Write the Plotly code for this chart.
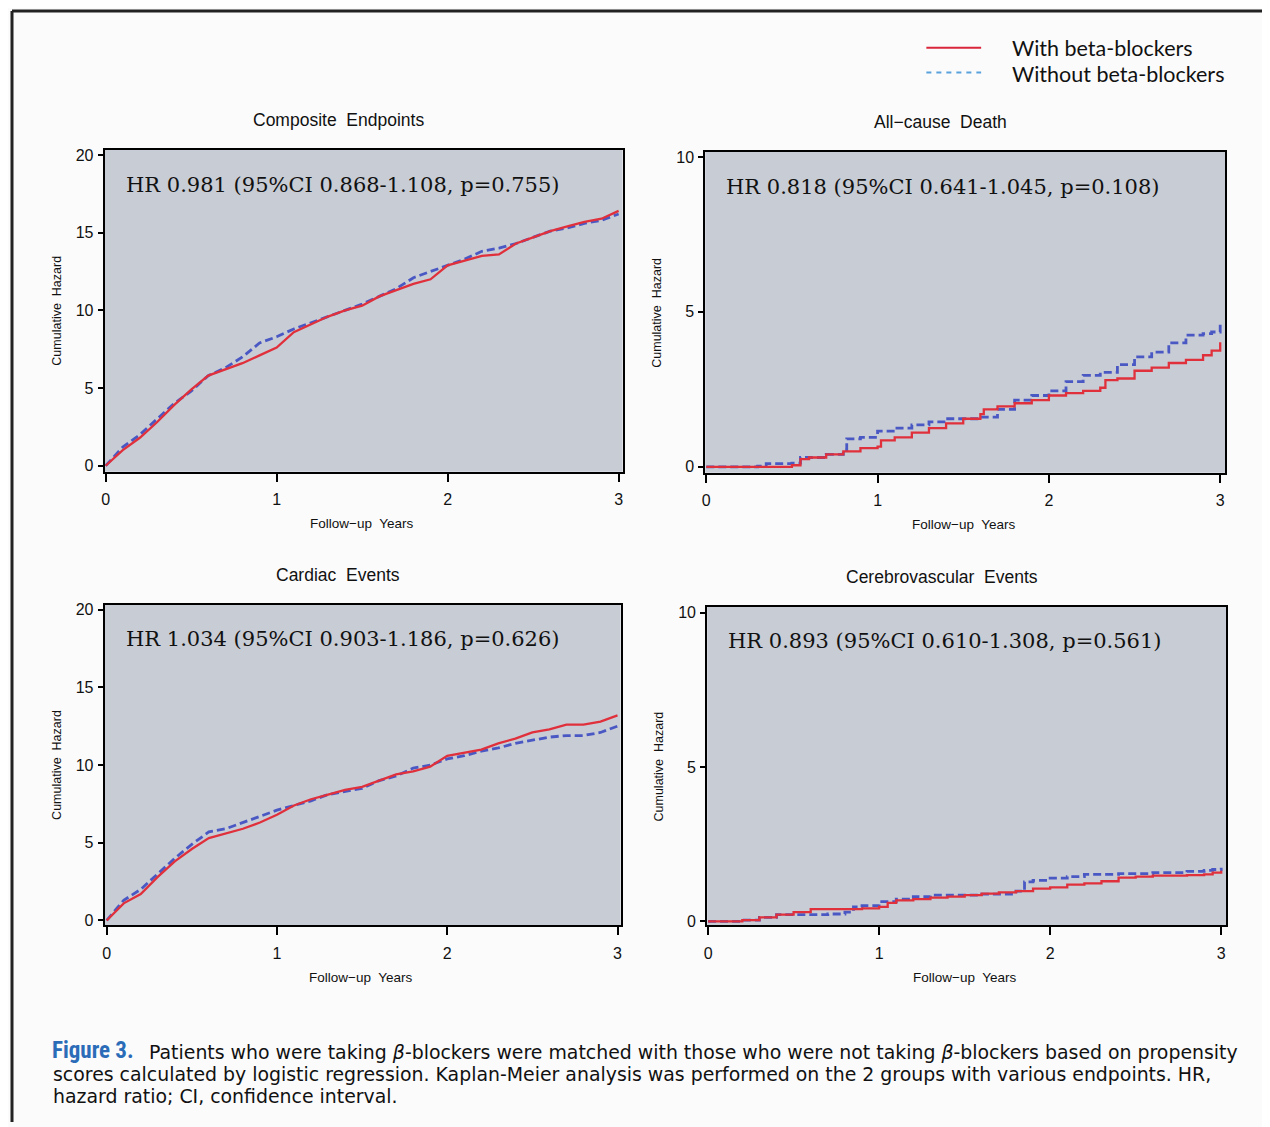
import plotly.graph_objects as go

# page body margin in the browser (the figure is drawn a few px in from the corner)
OFFX, OFFY = 10, 8
FW, FH = 1270 - OFFX, 1127 - OFFY

# ---------------- data ----------------
years = [0.0, 0.1, 0.2, 0.3, 0.4, 0.5, 0.6, 0.7, 0.8, 0.9, 1.0,
         1.1, 1.2, 1.3, 1.4, 1.5, 1.6, 1.7, 1.8, 1.9, 2.0,
         2.1, 2.2, 2.3, 2.4, 2.5, 2.6, 2.7, 2.8, 2.9, 3.0]

composite_with = [0, 1.0, 1.8, 2.8, 3.9, 4.9, 5.8, 6.2, 6.6, 7.1, 7.6,
                  8.6, 9.1, 9.6, 10.0, 10.3, 10.9, 11.3, 11.7, 12.0, 12.9,
                  13.2, 13.5, 13.6, 14.3, 14.7, 15.1, 15.4, 15.7, 15.9, 16.4]
composite_without = [0, 1.2, 2.0, 3.0, 4.0, 4.8, 5.8, 6.3, 7.0, 7.9, 8.3,
                     8.8, 9.2, 9.6, 10.0, 10.4, 10.9, 11.4, 12.1, 12.5, 12.9,
                     13.3, 13.8, 14.0, 14.3, 14.7, 15.1, 15.3, 15.6, 15.8, 16.2]

cardiac_with = [0, 1.1, 1.7, 2.8, 3.8, 4.6, 5.3, 5.6, 5.9, 6.3, 6.8,
                7.4, 7.8, 8.1, 8.4, 8.6, 9.0, 9.4, 9.6, 9.9, 10.6,
                10.8, 11.0, 11.4, 11.7, 12.1, 12.3, 12.6, 12.6, 12.8, 13.2]
cardiac_without = [0, 1.3, 2.0, 3.0, 4.0, 4.9, 5.7, 5.9, 6.3, 6.7, 7.1,
                   7.4, 7.7, 8.1, 8.3, 8.5, 9.0, 9.3, 9.8, 10.0, 10.4,
                   10.6, 10.9, 11.1, 11.4, 11.6, 11.8, 11.9, 11.9, 12.1, 12.5]

death_years_with = [0, 0.5, 0.55, 0.6, 0.7, 0.8, 0.9, 1.0, 1.02, 1.1, 1.2, 1.3, 1.4,
                    1.5, 1.6, 1.62, 1.7, 1.8, 1.9, 2.0, 2.1, 2.2, 2.3, 2.33, 2.4,
                    2.5, 2.6, 2.7, 2.8, 2.9, 2.95, 3.0]
death_with = [0, 0.05, 0.25, 0.3, 0.4, 0.5, 0.6, 0.65, 0.85, 0.95, 1.1, 1.25, 1.4,
              1.55, 1.7, 1.85, 1.95, 2.05, 2.15, 2.3, 2.38, 2.45, 2.55, 2.8, 2.85,
              3.1, 3.2, 3.35, 3.45, 3.6, 3.75, 4.02]
death_years_without = [0, 0.3, 0.35, 0.5, 0.55, 0.7, 0.8, 0.82, 0.9, 1.0, 1.1, 1.2,
                       1.3, 1.4, 1.6, 1.7, 1.8, 1.9, 2.0, 2.1, 2.2, 2.3, 2.4, 2.5,
                       2.6, 2.7, 2.8, 2.9, 2.95, 3.0]
death_without = [0, 0.02, 0.1, 0.12, 0.3, 0.4, 0.55, 0.9, 0.95, 1.15, 1.25, 1.35,
                 1.45, 1.55, 1.6, 1.85, 2.15, 2.3, 2.45, 2.75, 2.95, 3.05, 3.3, 3.55,
                 3.7, 4.0, 4.25, 4.3, 4.35, 4.6]

cereb_years_with = [0, 0.2, 0.3, 0.4, 0.5, 0.6, 0.9, 1.0, 1.05, 1.1, 1.2, 1.3, 1.4,
                    1.5, 1.6, 1.7, 1.8, 1.9, 2.0, 2.1, 2.2, 2.3, 2.4, 2.5, 2.6,
                    2.8, 2.9, 2.95, 3.0]
cereb_with = [0, 0.04, 0.13, 0.22, 0.3, 0.4, 0.42, 0.47, 0.6, 0.68, 0.72, 0.77, 0.8,
              0.85, 0.9, 0.94, 0.98, 1.06, 1.1, 1.19, 1.23, 1.3, 1.42, 1.45, 1.48,
              1.5, 1.52, 1.58, 1.64]
cereb_years_without = [0, 0.2, 0.3, 0.4, 0.7, 0.8, 0.85, 0.9, 1.0, 1.1, 1.2, 1.3,
                       1.6, 1.8, 1.85, 1.9, 2.0, 2.1, 2.2, 2.4, 2.6, 2.8, 2.9, 2.95, 3.0]
cereb_without = [0, 0.04, 0.13, 0.22, 0.24, 0.3, 0.47, 0.51, 0.64, 0.72, 0.8, 0.85,
                 0.88, 0.98, 1.28, 1.33, 1.4, 1.45, 1.52, 1.55, 1.58, 1.62, 1.65, 1.68, 1.74]

panel_titles = ["Composite  Endpoints", "All\u2212cause  Death", "Cardiac  Events", "Cerebrovascular  Events"]
hr_texts = ["HR 0.981 (95%CI 0.868-1.108, p=0.755)",
            "HR 0.818 (95%CI 0.641-1.045, p=0.108)",
            "HR 1.034 (95%CI 0.903-1.186, p=0.626)",
            "HR 0.893 (95%CI 0.610-1.308, p=0.561)"]
x_ticks = [0, 1, 2, 3]
y_ticks_big = [0, 5, 10, 15, 20]
y_ticks_small = [0, 5, 10]
series_names = ["With beta-blockers", "Without beta-blockers"]

# ---------------- styling ----------------
RED = "#e0303c"
BLUE = "#4a58c4"
PLOT_BG = "#c8ccd5"
TICK_FONT = dict(family="Liberation Sans, Arial", size=16, color="#111")


def px_x(p):
    return (p - OFFX) / FW


def px_y(p):
    return 1 - (p - OFFY) / FH


# panel frames in pixels: (left, right, top, bottom), axis ranges
panels = [
    dict(box=(103, 623, 148, 472), xr=[-0.006, 3.023], yr=[-0.383, 20.32], yt=y_ticks_big),
    dict(box=(706, 1228, 150, 473), xr=[-0.006, 3.029], yr=[-0.19, 10.16], yt=y_ticks_small),
    dict(box=(103, 621, 606, 929), xr=[-0.012, 3.018], yr=[-0.32, 20.32], yt=y_ticks_big),
    dict(box=(708, 1229, 608, 929), xr=[-0.005, 3.029], yr=[-0.13, 10.19], yt=y_ticks_small),
]

curves = [
    [(years, composite_with, "linear"), (years, composite_without, "linear")],
    [(death_years_with, death_with, "hv"), (death_years_without, death_without, "hv")],
    [(years, cardiac_with, "linear"), (years, cardiac_without, "linear")],
    [(cereb_years_with, cereb_with, "hv"), (cereb_years_without, cereb_without, "hv")],
]

fig = go.Figure()
layout = {}
annotations = []
shapes = []

for i, (p, cv) in enumerate(zip(panels, curves)):
    k = "" if i == 0 else str(i + 1)
    l, r, t, b = p["box"]
    xa = "x" + k
    ya = "y" + k
    (xw, yw, sh), (xo, yo, sh2) = cv
    fig.add_trace(go.Scatter(x=xo, y=yo, mode="lines",
                             line=dict(color=BLUE, width=2.8, dash="8px,4px", shape=sh2),
                             xaxis=xa, yaxis=ya, showlegend=False, name=series_names[1]))
    fig.add_trace(go.Scatter(x=xw, y=yw, mode="lines", line=dict(color=RED, width=2.3, shape=sh),
                             xaxis=xa, yaxis=ya, showlegend=False, name=series_names[0]))
    layout["xaxis" + k] = dict(domain=[px_x(l), px_x(r)], range=p["xr"], anchor=ya,
                               tickvals=x_ticks, ticks="outside", ticklen=8, tickwidth=1.5,
                               tickcolor="black", showline=True, linecolor="black", linewidth=2,
                               mirror=True, showgrid=False, zeroline=False, tickfont=TICK_FONT,
                               ticklabelstandoff=4)
    layout["yaxis" + k] = dict(domain=[px_y(b), px_y(t)], range=p["yr"], anchor=xa,
                               tickvals=p["yt"], ticks="outside", ticklen=5, tickwidth=1.5,
                               tickcolor="black", showline=True, linecolor="black", linewidth=2,
                               mirror=True, showgrid=False, zeroline=False, tickfont=TICK_FONT,
                               ticklabelstandoff=1)
    shapes.append(dict(type="rect", xref="paper", yref="paper", x0=px_x(l), x1=px_x(r),
                       y0=px_y(b), y1=px_y(t), fillcolor=PLOT_BG, line=dict(width=0), layer="below"))
    cx = (l + r) / 2
    annotations.append(dict(text=panel_titles[i], x=px_x(cx - 25), y=px_y(t - 30), xref="paper", yref="paper",
                            showarrow=False, xanchor="center", yanchor="middle",
                            font=dict(family="Liberation Sans, Arial", size=17.5, color="#111")))
    annotations.append(dict(text=hr_texts[i], x=px_x(l + 19), y=px_y(t + 35), xref="paper", yref="paper",
                            showarrow=False, xanchor="left", yanchor="middle",
                            font=dict(family="DejaVu Serif, serif", size=21, color="#111")))
    annotations.append(dict(text="Follow\u2212up  Years", x=px_x(cx - 2), y=px_y(b + 52), xref="paper",
                            yref="paper", showarrow=False, xanchor="center", yanchor="middle",
                            font=dict(family="Liberation Sans, Arial", size=13.5, color="#111")))
    annotations.append(dict(text="Cumulative  Hazard", x=px_x(l - 48), y=px_y((t + b) / 2), xref="paper",
                            yref="paper", showarrow=False, textangle=-90, xanchor="center", yanchor="middle",
                            font=dict(family="Liberation Sans, Arial", size=12.5, color="#111")))

# legend (manual)
shapes.append(dict(type="line", xref="paper", yref="paper", x0=px_x(928), x1=px_x(983),
                   y0=px_y(45), y1=px_y(45), line=dict(color="#d9263a", width=2)))
shapes.append(dict(type="line", xref="paper", yref="paper", x0=px_x(928), x1=px_x(983),
                   y0=px_y(70), y1=px_y(70), line=dict(color="#5aa2dc", width=2, dash="5px,5px")))
annotations.append(dict(text=series_names[0], x=px_x(1012), y=px_y(45), xref="paper", yref="paper",
                        showarrow=False, xanchor="left", yanchor="middle",
                        font=dict(family="Lato, Open Sans, sans-serif", size=21.5, color="#111")))
annotations.append(dict(text=series_names[1], x=px_x(1012), y=px_y(71), xref="paper", yref="paper",
                        showarrow=False, xanchor="left", yanchor="middle",
                        font=dict(family="Lato, Open Sans, sans-serif", size=21.5, color="#111")))

# frame of the figure (scan)
shapes.append(dict(type="line", xref="paper", yref="paper", x0=0, x1=1,
                   y0=1, y1=1, line=dict(color="#222", width=3)))
shapes.append(dict(type="line", xref="paper", yref="paper", x0=0, x1=0,
                   y0=1, y1=0, line=dict(color="#222", width=3)))

# caption
cap_font = dict(family="DejaVu Sans, Liberation Sans", size=18.9, color="#111")
annotations.append(dict(text="<b>Figure 3.</b>", x=px_x(48), y=px_y(1055), xref="paper", yref="paper",
                        showarrow=False, xanchor="left", yanchor="middle",
                        font=dict(family="Liberation Sans Narrow, Roboto Condensed, Roboto", size=23, color="#2b6cb8")))
annotations.append(dict(text="Patients who were taking <i>\u03b2</i>-blockers were matched with those who were not taking <i>\u03b2</i>-blockers based on propensity",
                        x=px_x(146), y=px_y(1056), xref="paper", yref="paper", showarrow=False,
                        xanchor="left", yanchor="middle", font=cap_font))
annotations.append(dict(text="scores calculated by logistic regression. Kaplan-Meier analysis was performed on the 2 groups with various endpoints. HR,",
                        x=px_x(49), y=px_y(1079), xref="paper", yref="paper", showarrow=False,
                        xanchor="left", yanchor="middle", font=cap_font))
annotations.append(dict(text="hazard ratio; CI, confidence interval.",
                        x=px_x(49), y=px_y(1101), xref="paper", yref="paper", showarrow=False,
                        xanchor="left", yanchor="middle", font=cap_font))

fig.update_layout(width=FW, height=FH, margin=dict(l=0, r=0, t=0, b=0),
                  paper_bgcolor="#fbfbfb", plot_bgcolor="rgba(0,0,0,0)",
                  shapes=shapes, annotations=annotations, showlegend=False, **layout)

fig.write_html("out.html")
